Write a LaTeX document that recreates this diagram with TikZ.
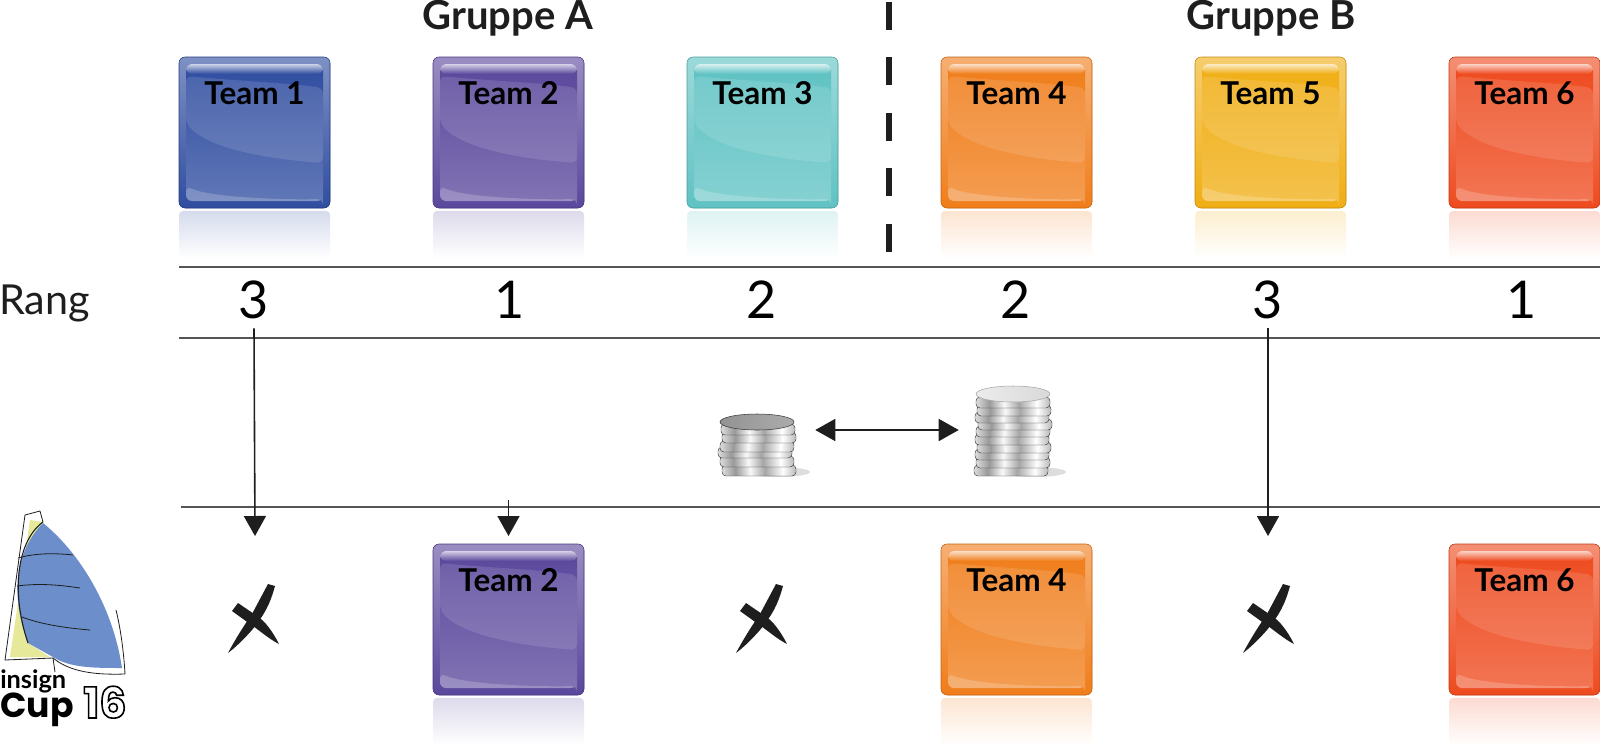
\documentclass[tikz,border=0pt]{standalone}
\usepackage{fontspec}
\setmainfont{Lato}
\newfontfamily\cupfont{Poppins}
\usepackage{xcolor}
\usetikzlibrary{positioning, arrows.meta, shapes.geometric}
\definecolor{teamblue}{HTML}{2F4DA0}
\definecolor{teamviolet}{HTML}{5A479C}
\definecolor{teamcyan}{HTML}{5FC2C3}
\definecolor{teamorange}{HTML}{F07D1A}
\definecolor{teamyellow}{HTML}{F0AE14}
\definecolor{teamred}{HTML}{EE4A1E}
\definecolor{inkdark}{HTML}{1E1E1E}
\definecolor{railgray}{HTML}{555555}
\definecolor{sailblue}{HTML}{6C8FCB}
\definecolor{sailyellow}{HTML}{E6E89A}
\pgfdeclarehorizontalshading{coinmetal}{100bp}{
  color(0bp)=(gray!85); color(22bp)=(gray!10); color(34bp)=(gray!80); color(44bp)=(gray!5);
  color(54bp)=(gray!70); color(66bp)=(white); color(80bp)=(gray!85); color(90bp)=(gray!30); color(100bp)=(gray!80)}

\begin{document}
\begin{tikzpicture}[x=0.75pt, y=-0.75pt, node distance=77.25pt,
  teamlabel/.style={font=\bfseries\fontsize{23.6}{23.6}\selectfont, text=black, inner sep=0pt, yshift=29.6pt},
  teambox/.style={rounded corners=4.5pt, draw=#1!80!black, line width=0.4pt, anchor=center, outer sep=0pt,
    fill=#1, inner sep=0pt, minimum size=113.25pt,
    path picture={
      \shade[top color=#1!62!white, bottom color=#1] (-75.5,-75.5) rectangle (75.5,75.5);
      \shade[top color=#1, bottom color=#1!76!white] (-68.5,-68.5) rectangle (68.5,68.5);
      \fill[white, fill opacity=.12] (-68.5,-56.5) .. controls (-15.5,-51.5) and (34.5,-49.5) .. (68.5,-44.5)
        -- (68.5,30.5) .. controls (14.5,26.5) and (-45.5,16.5) .. (-68.5,-9.5) -- cycle;
      \fill[white, fill opacity=.2] (-68.5,53.5) .. controls (-45.5,64.5) and (24.5,67.5) .. (68.5,66.5)
        -- (68.5,68.5) -- (-68.5,68.5) -- cycle;
      \shade[top color=#1!25!white, bottom color=#1] (-68.5,-68.5) rectangle (68.5,-58.5);}},
  ranknum/.style={font=\fontsize{39}{39}\selectfont, inner sep=0pt, text height=29pt, text depth=7pt},
  grouplabel/.style={font=\bfseries\fontsize{30}{30}\selectfont, text=inkdark, inner sep=0pt, anchor=base},
  rail/.style={draw=railgray, line width=1.5pt},
  drop/.style={-{Triangle[length=15pt, width=16.5pt]}, draw=inkdark, line width=1.2pt},
  swap/.style={{Triangle[length=15pt, width=16.5pt]}-{Triangle[length=15pt, width=16.5pt]}, draw=inkdark, line width=1.2pt},
  coinedge/.style={shading=coinmetal, draw=gray!45!black, line width=.35pt, rounded corners=3pt},
  coinspot/.style={inner sep=0pt, minimum height=6pt},
  crossmark/.pic={
    \fill[inkdark] (13,-34) -- (20,-32) .. controls (15,-14) and (10,-4) .. (-3,12)
      .. controls (-10,20) and (-19,29) .. (-27,35) .. controls (-19,20) and (-10,6) .. (-3,-4) -- cycle;
    \fill[inkdark] (-23,-7) -- (-17,-15) -- (2,-2) .. controls (10,3) and (18,14) .. (24,26)
      .. controls (14,21) and (4,12) .. (-5,6) -- cycle;}]
\useasboundingbox (0,0) rectangle (1600,747);
% Top row of teams.
\node[teambox=teamblue, label={[teamlabel]center:Team 1}] (teamA) at (254.5,132.5) {};
\node[teambox=teamviolet, right=of teamA, label={[teamlabel]center:Team 2}] (teamB) {};
\node[teambox=teamcyan, right=of teamB, label={[teamlabel]center:Team 3}] (teamC) {};
\node[teambox=teamorange, right=of teamC, label={[teamlabel]center:Team 4}] (teamD) {};
\node[teambox=teamyellow, right=of teamD, label={[teamlabel]center:Team 5}] (teamE) {};
\node[teambox=teamred, right=of teamE, label={[teamlabel]center:Team 6}] (teamF) {};
\node[grouplabel] (groupA) at (508,29) {Gruppe A};
\node[grouplabel] (groupB) at (1271,29) {Gruppe B};
% Qualified teams.
\node[teambox=teamviolet, label={[teamlabel]center:Team 2}] (finalB) at (508.5,619.5) {};
\node[teambox=teamorange, right=381pt of finalB.center, anchor=center, label={[teamlabel]center:Team 4}] (finalD) {};
\node[teambox=teamred, right=381pt of finalD.center, anchor=center, label={[teamlabel]center:Team 6}] (finalF) {};
% Reflections.
\foreach \n/\c in {teamA/teamblue, teamB/teamviolet, teamC/teamcyan, teamD/teamorange,
    teamE/teamyellow, teamF/teamred, finalB/teamviolet, finalD/teamorange, finalF/teamred}
  \shade[top color=\c!20!white, bottom color=white, rounded corners=3pt]
    ([yshift=-2.2pt]\n.south west) rectangle ++(151,48);
\draw[inkdark, line width=3.8pt, dash pattern=on 21pt off 20.6pt] (889,2) -- (889,252);
% Rank rows.
\coordinate (railA) at (179,267); \coordinate (railB) at (179,338); \coordinate (railC) at (181,507);
\draw[rail] (railA) -- (1600,267);
\draw[rail] (railB) -- (1600,338);
\draw[rail] (railC) -- (1600,507);
\node[anchor=base west, inner sep=0pt, font=\fontsize{31}{31}\selectfont, text=inkdark] (rang) at (-1,314) {Rang};
\node[ranknum] (rankA) at (254,304) {3};
\node[ranknum] (rankB) at (510,304) {1};
\node[ranknum] (rankC) at (762,304) {2};
\node[ranknum] (rankD) at (1016,304) {2};
\node[ranknum] (rankE) at (1268,304) {3};
\node[ranknum] (rankF) at (1522,304) {1};
% Coins.
\fill[gray!45, opacity=.6] (778,472) ellipse [x radius=32, y radius=5];
\fill[gray!45, opacity=.6] (1034,472) ellipse [x radius=32, y radius=5];
\foreach \dx/\yy in {2/471, 0/462, -2/453, 0/447, 2/438, 1/430}
  \path[coinedge] (757+\dx-37,\yy-6) rectangle (757+\dx+37,\yy+5);
\path[shade, left color=gray!85, right color=gray!65, draw=gray!45!black, line width=.4pt] (757,422) ellipse [x radius=37, y radius=8];
\foreach \dx/\yy in {-2/471, 0/463, -1/455, 1/448, -1/440, 0/432, 2/425, -1/418, 1/411, 0/403}
  \path[coinedge] (1013+\dx-37,\yy-6) rectangle (1013+\dx+37,\yy+5);
\path[shade, left color=gray!15, right color=gray!30, draw=gray!70, line width=.4pt] (1013,394) ellipse [x radius=37, y radius=8];
\node[coinspot, minimum width=87pt] (coinsA) at (757,430) {};
\node[coinspot, minimum width=79.5pt] (coinsB) at (1012,430) {};
\draw[swap] (coinsA) -- (coinsB);
% Eliminated teams.
\pic (crossA) at (255,618) {crossmark};
\pic (crossB) at (763,618) {crossmark};
\pic (crossC) at (1270,618) {crossmark};
\coordinate (outA) at (255,536); \coordinate (outC) at (1268,536);
\coordinate[above=33pt of finalB.north] (dropB);
\draw[drop] (rankA.south) -- (outA);
\draw[drop, shorten >=6pt] (dropB) -- (finalB.north);
\draw[drop] (rankE.south) -- (outC);
% Logo.
\fill[sailyellow] (30,520) -- (43,522) .. controls (20,560) and (16,600) .. (28,643) -- (50,657) -- (10,657) -- cycle;
\fill[sailblue] (43,523) .. controls (80,553) and (113,607) .. (122,668)
  .. controls (95,668) and (70,668) .. (53,657) -- (28,643) .. controls (12,600) and (12,555) .. (43,523) -- cycle;
\draw[inkdark, line width=.6pt] (43,522) -- (40,511) -- (25,515) -- (5,660) -- (53,658) -- (55,672);
\draw[inkdark, line width=.6pt] (53,658) .. controls (70,672) and (95,675) .. (125,674) .. controls (124,655) and (121,630) .. (116,610);
\draw[inkdark, line width=.8pt] (43,522) .. controls (18,540) and (10,590) .. (28,643);
\draw[inkdark, line width=.6pt] (18,558) .. controls (35,553) and (55,553) .. (73,555);
\draw[inkdark, line width=.6pt] (17,586) .. controls (40,583) and (60,585) .. (80,588);
\draw[inkdark, line width=.6pt] (22,617) .. controls (40,624) and (65,628) .. (90,630);
\node[anchor=base west, inner sep=0pt, font=\bfseries\fontsize{19}{19}\selectfont] (logoA) at (0,688) {insign};
\node[anchor=base west, inner sep=0pt, font=\cupfont\bfseries\fontsize{26}{26}\selectfont] (logoB) at (0,717) {Cup};
\node[anchor=base west, inner sep=0pt, font=\cupfont\bfseries\fontsize{32}{32}\selectfont] (logoC) at (83,718)
  {\special{pdf:code 1 Tr 1.2 w}16\special{pdf:code 0 Tr}};
\end{tikzpicture}
\end{document}
